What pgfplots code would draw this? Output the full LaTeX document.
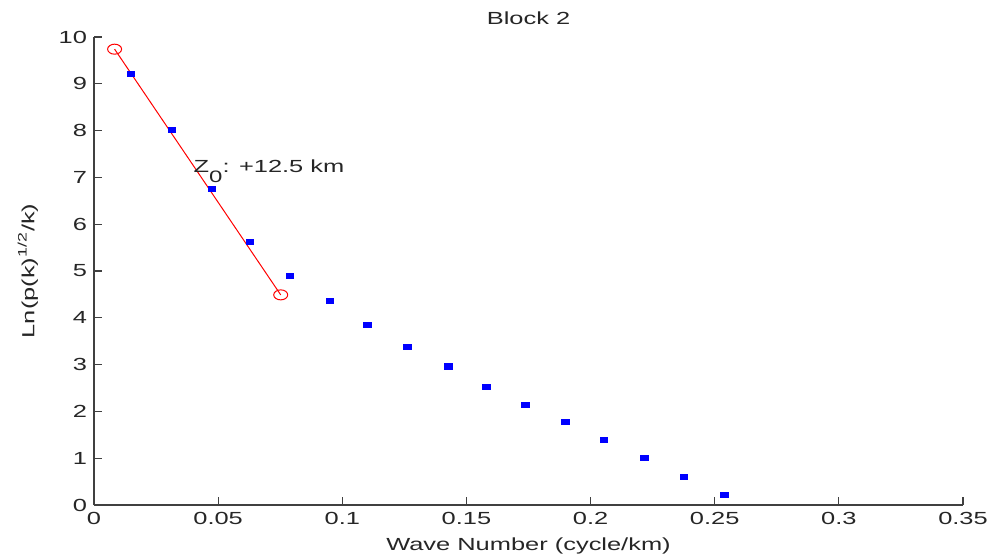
\documentclass[border=0pt]{standalone}
\usepackage{fontspec}
\setmainfont{Liberation Sans}[FakeStretch=1.45]
\usepackage{pgfplots}
\pgfplotsset{compat=1.18}

\definecolor{txt}{gray}{0.15}
\newcommand{\lblfont}{\fontsize{8.8}{10.5}\selectfont}

\begin{document}
\begin{tikzpicture}
\begin{axis}[
  scale only axis,
  width=434.5bp,
  height=234bp,
  xmin=0, xmax=0.35,
  ymin=0, ymax=10,
  axis x line*=bottom,
  axis y line*=left,
  tick align=inside,
  major tick length=4bp,
  xtick={0,0.05,...,0.35},
  ytick={0,1,...,10},
  /pgf/number format/assume math mode=true,
  /pgf/number format/fixed,
  /pgf/number format/precision=2,
  ticklabel style={font=\lblfont, text=txt},
  every axis label/.append style={font=\lblfont, text=txt},
  title style={font=\lblfont, text=txt, yshift=-3.5bp},
  title={Block 2},
  xlabel={Wave Number (cycle/km)},
  ylabel={Ln(p(k)\textsuperscript{1/2}/k)},
  xlabel style={yshift=0bp},
  ylabel style={yshift=3.5bp},
  axis line style={black!75, line width=0.6pt},
  major tick style={black!75, line width=0.6pt},
  clip=false,
  ]
  \addplot[only marks, mark=square*, mark size=1.3bp, color=blue,
    mark options={xscale=1.5}]
    coordinates {
      (0.0149,9.21) (0.0314,8.01) (0.0475,6.75) (0.0628,5.62)
      (0.0789,4.89) (0.0950,4.36) (0.1102,3.84) (0.1263,3.37)
      (0.1426,2.96) (0.1579,2.52) (0.1739,2.14) (0.1900,1.77)
      (0.2054,1.39) (0.2216,1.01) (0.2376,0.60) (0.2538,0.21)
    };
  \addplot[red, line width=0.5pt, mark=o, mark size=2.5bp,
    mark options={xscale=1.4, line width=0.5pt}]
    coordinates {(0.0083,9.74) (0.0752,4.49)};
  \node[anchor=base west, inner sep=0pt, font=\lblfont, text=txt]
    at (axis cs:0.0400,7.10) {Z\raisebox{-5bp}{\fontsize{8.3}{9}\selectfont 0}: +12.5 km};
\end{axis}
\pgfresetboundingbox
\path[use as bounding box] (-47bp,-26.5bp) rectangle (449bp,252.5bp);
\end{tikzpicture}
\end{document}
